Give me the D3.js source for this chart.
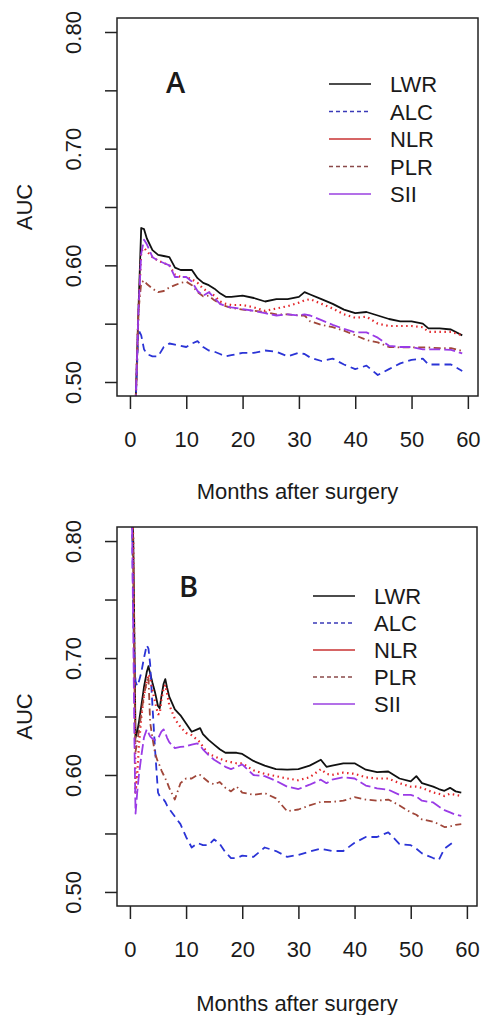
<html>
<head>
<script src="https://d3js.org/d3.v7.min.js"></script>
<style>
  body { margin: 0; background: #fff; }
  text { font-family: "Liberation Sans", Arial, sans-serif; fill: #1a1a1a; }
</style>
</head>
<body>
<script>
// ---- data ----
var seriesNames = ["LWR", "ALC", "NLR", "PLR", "SII"];
var xTicks = [0, 10, 20, 30, 40, 50, 60];
var yTicks = [0.50, 0.55, 0.60, 0.65, 0.70, 0.75, 0.80];
var yTickLabels = ["0.50", "", "0.60", "", "0.70", "", "0.80"];

// panel A
var monthsA = [1, 1.5, 2, 2.5, 3, 4, 5, 6, 7, 8, 9, 10, 11, 12, 13, 14, 15, 16, 17, 18,
  20, 22, 24, 26, 28, 30, 31, 32, 34, 36, 38, 40, 42, 44, 46, 48, 50, 52, 53, 55, 57, 59];
var lwrA = [0.48, 0.56, 0.632, 0.631, 0.623, 0.613, 0.609, 0.608, 0.607, 0.598, 0.596, 0.596, 0.596, 0.589, 0.585, 0.583, 0.580, 0.576, 0.573, 0.573,
  0.574, 0.572, 0.569, 0.571, 0.571, 0.573, 0.577, 0.575, 0.571, 0.567, 0.562, 0.559, 0.560, 0.557, 0.554, 0.552, 0.552, 0.550, 0.546, 0.546, 0.545, 0.540];
var alcA = [0.48, 0.545, 0.54, 0.528, 0.524, 0.522, 0.522, 0.530, 0.533, 0.532, 0.531, 0.530, 0.533, 0.535, 0.530, 0.527, 0.526, 0.524, 0.522, 0.523,
  0.525, 0.525, 0.527, 0.526, 0.522, 0.525, 0.524, 0.521, 0.518, 0.520, 0.515, 0.511, 0.514, 0.506, 0.511, 0.516, 0.519, 0.520, 0.515, 0.515, 0.515, 0.5095];
var nlrA = [0.48, 0.56, 0.612, 0.615, 0.612, 0.607, 0.604, 0.602, 0.600, 0.592, 0.590, 0.590, 0.588, 0.585, 0.580, 0.577, 0.574, 0.569, 0.567, 0.566,
  0.566, 0.564, 0.561, 0.563, 0.565, 0.568, 0.570, 0.571, 0.567, 0.563, 0.558, 0.555, 0.556, 0.550, 0.548, 0.548, 0.548, 0.547, 0.543, 0.543, 0.543, 0.540];
var plrA = [0.48, 0.56, 0.585, 0.587, 0.584, 0.580, 0.577, 0.578, 0.581, 0.583, 0.585, 0.586, 0.583, 0.577, 0.5735, 0.574, 0.570, 0.567, 0.565, 0.5635,
  0.562, 0.561, 0.560, 0.558, 0.558, 0.557, 0.557, 0.552, 0.549, 0.547, 0.544, 0.540, 0.536, 0.534, 0.530, 0.5296, 0.5296, 0.5296, 0.5296, 0.529, 0.529, 0.5267];
var siiA = [0.48, 0.56, 0.610, 0.622, 0.618, 0.607, 0.604, 0.602, 0.600, 0.590, 0.590, 0.590, 0.586, 0.578, 0.574, 0.577, 0.572, 0.567, 0.565, 0.564,
  0.5625, 0.561, 0.559, 0.557, 0.558, 0.557, 0.558, 0.557, 0.553, 0.549, 0.5455, 0.5425, 0.5425, 0.538, 0.531, 0.530, 0.530, 0.528, 0.528, 0.528, 0.5275, 0.5245];

// panel B
var monthsB = [0.3, 0.6, 0.8, 1, 1.3, 1.6, 2, 2.5, 3, 3.3, 3.6, 4, 4.5, 5, 5.3, 5.6, 6, 6.3, 6.6, 7,
  8, 9, 10, 11, 12, 12.5, 13, 14, 15, 16, 17, 18, 19, 20, 22, 24, 26, 28, 30, 32,
  34, 35, 36, 38, 40, 42, 44, 46, 48, 50, 51, 52, 54, 55, 56, 57, 58, 59];
var lwrB = [0.85, 0.80, 0.715, 0.632, 0.637, 0.645, 0.658, 0.675, 0.688, 0.693, 0.687, 0.679, 0.670, 0.659, 0.657, 0.667, 0.678, 0.682, 0.675, 0.667,
  0.656, 0.651, 0.644, 0.637, 0.639, 0.640, 0.635, 0.630, 0.626, 0.622, 0.619, 0.619, 0.619, 0.618, 0.612, 0.608, 0.605, 0.6045, 0.605, 0.608,
  0.613, 0.607, 0.608, 0.610, 0.610, 0.6045, 0.6025, 0.603, 0.597, 0.5945, 0.599, 0.593, 0.590, 0.588, 0.5865, 0.589, 0.586, 0.585];
var alcB = [0.85, 0.733, 0.70, 0.68, 0.676, 0.68, 0.687, 0.700, 0.711, 0.708, 0.695, 0.66, 0.62, 0.585, 0.582, 0.580, 0.579, 0.577, 0.574, 0.571,
  0.5645, 0.558, 0.547, 0.538, 0.5417, 0.541, 0.540, 0.540, 0.545, 0.541, 0.534, 0.529, 0.529, 0.531, 0.530, 0.538, 0.535, 0.530, 0.5317, 0.5345,
  0.537, 0.536, 0.535, 0.535, 0.542, 0.547, 0.547, 0.551, 0.541, 0.540, 0.537, 0.533, 0.529, 0.5274, 0.537, 0.5405, 0.544, null];
var nlrB = [0.85, 0.80, 0.70, 0.585, 0.600, 0.625, 0.648, 0.668, 0.680, 0.686, 0.683, 0.673, 0.662, 0.652, 0.652, 0.664, 0.674, 0.677, 0.670, 0.660,
  0.648, 0.641, 0.636, 0.634, 0.630, 0.628, 0.624, 0.618, 0.616, 0.614, 0.612, 0.611, 0.610, 0.610, 0.604, 0.601, 0.599, 0.597, 0.5955, 0.598,
  0.605, 0.601, 0.600, 0.602, 0.601, 0.598, 0.597, 0.597, 0.593, 0.590, 0.590, 0.589, 0.585, 0.584, 0.582, 0.584, 0.583, 0.582];
var plrB = [0.85, 0.78, 0.68, 0.62, 0.628, 0.638, 0.652, 0.668, 0.680, 0.684, 0.645, 0.632, 0.618, 0.611, 0.608, 0.604, 0.600, 0.597, 0.594, 0.589,
  0.579, 0.593, 0.597, 0.597, 0.600, 0.600, 0.598, 0.594, 0.592, 0.594, 0.589, 0.586, 0.590, 0.585, 0.583, 0.5845, 0.580, 0.569, 0.5705, 0.574,
  0.577, 0.577, 0.577, 0.578, 0.581, 0.579, 0.578, 0.579, 0.574, 0.568, 0.566, 0.562, 0.560, 0.558, 0.5555, 0.556, 0.5574, 0.558];
var siiB = [0.85, 0.72, 0.63, 0.567, 0.585, 0.600, 0.615, 0.632, 0.639, 0.636, 0.633, 0.631, 0.630, 0.631, 0.634, 0.637, 0.639, 0.636, 0.632, 0.628,
  0.623, 0.624, 0.6245, 0.626, 0.627, 0.625, 0.622, 0.617, 0.613, 0.610, 0.607, 0.605, 0.607, 0.609, 0.600, 0.599, 0.595, 0.590, 0.588, 0.5917,
  0.596, 0.593, 0.596, 0.598, 0.597, 0.591, 0.5885, 0.5875, 0.583, 0.583, 0.5816, 0.578, 0.5765, 0.573, 0.570, 0.568, 0.566, 0.565];

// ---- styles ----
var lineStyle = [
  { color: "#111", dash: null, w: 1.8 },
  { color: "#2b34d6", dash: "8,5", w: 1.8 },
  { color: "#e3262a", dash: "1.5,3.5", w: 2.2 },
  { color: "#a0473a", dash: "1.5,3.5,7,3.5", w: 1.8 },
  { color: "#9a3be6", dash: "11,4", w: 1.8 }
];
var legendStyle = [
  { color: "#111", dash: null },
  { color: "#3a3ab8", dash: "4,3" },
  { color: "#c83232", dash: null },
  { color: "#8a4a4a", dash: "4,3" },
  { color: "#9a40e0", dash: null }
];

var svg = d3.select("body").append("svg").attr("width", 483).attr("height", 1015);

function panel(p) {
  var x = d3.scaleLinear().domain([-2.3, 61.8]).range([p.l, p.r]);
  var y = d3.scaleLinear().domain([0.488, 0.812]).range([p.b, p.t]);
  var g = svg.append("g");

  g.append("clipPath").attr("id", "clip" + p.id)
    .append("rect").attr("x", p.l).attr("y", p.t).attr("width", p.r - p.l).attr("height", p.b - p.t);

  // series
  var line = d3.line().defined(function (d) { return d[1] != null; })
    .x(function (d) { return x(d[0]); }).y(function (d) { return y(d[1]); });
  var lines = g.append("g").attr("clip-path", "url(#clip" + p.id + ")");
  p.series.forEach(function (vals, i) {
    var pts = p.months.map(function (m, j) { return [m, vals[j]]; });
    var s = lineStyle[i];
    lines.append("path").datum(pts).attr("d", line)
      .attr("fill", "none").attr("stroke", s.color).attr("stroke-width", s.w)
      .attr("stroke-dasharray", s.dash).attr("stroke-linejoin", "round");
  });

  // box
  g.append("rect").attr("x", p.l).attr("y", p.t).attr("width", p.r - p.l).attr("height", p.b - p.t)
    .attr("fill", "none").attr("stroke", "#222").attr("stroke-width", 1.5);

  // y axis
  var ya = g.append("g").attr("transform", "translate(" + p.l + ",0)")
    .call(d3.axisLeft(y).tickValues(yTicks).tickSize(12)
      .tickFormat(function (d, i) { return yTickLabels[i]; }));
  ya.select(".domain").remove();
  ya.selectAll("line").attr("stroke", "#222").attr("stroke-width", 1.5);
  ya.selectAll("text").attr("transform", "rotate(-90)").attr("x", 0).attr("y", -36).attr("dy", 0)
    .style("text-anchor", "middle").style("font-size", "22px")
    .style("font-family", "'Liberation Sans', Arial, sans-serif").attr("fill", "#1a1a1a");

  // x axis
  var xa = g.append("g").attr("transform", "translate(0," + p.b + ")")
    .call(d3.axisBottom(x).tickValues(xTicks).tickSize(13));
  xa.select(".domain").remove();
  xa.selectAll("line").attr("stroke", "#222").attr("stroke-width", 1.5);
  xa.selectAll("text").attr("y", 51).attr("dy", 0)
    .style("font-size", "22px").style("font-family", "'Liberation Sans', Arial, sans-serif").attr("fill", "#1a1a1a");

  // axis titles
  g.append("text").attr("x", (p.l + p.r) / 2).attr("y", p.titleY).attr("text-anchor", "middle")
    .style("font-size", "22px").text("Months after surgery");
  g.append("text").attr("transform", "translate(32," + (p.t + p.b) / 2 + ") rotate(-90)")
    .attr("text-anchor", "middle").style("font-size", "22px").text("AUC");

  // panel letter
  g.append("text").attr("x", p.letterX).attr("y", p.letterY)
    .style("font-family", "'Open Sans', sans-serif").style("font-size", "29px").style("font-weight", 600)
    .attr("fill", "#000").text(p.letter);

  // legend
  seriesNames.forEach(function (name, i) {
    var ry = p.legY + i * p.legStep;
    var s = legendStyle[i];
    g.append("line").attr("x1", p.legX).attr("x2", p.legX + 42).attr("y1", ry).attr("y2", ry)
      .attr("stroke", s.color).attr("stroke-width", 1.5).attr("stroke-dasharray", s.dash);
    g.append("text").attr("x", p.legX + 61).attr("y", ry + 8).style("font-size", "22px").text(name);
  });
}

panel({ id: "A", months: monthsA, series: [lwrA, alcA, nlrA, plrA, siiA],
  l: 117, r: 478, t: 18, b: 396, titleY: 499,
  letter: "A", letterX: 166, letterY: 93, legX: 329, legY: 84, legStep: 27.5 });
panel({ id: "B", months: monthsB, series: [lwrB, alcB, nlrB, plrB, siiB],
  l: 117, r: 477, t: 527, b: 906, titleY: 1011,
  letter: "B", letterX: 179, letterY: 597, legX: 313, legY: 596, legStep: 27 });
</script>
</body>
</html>
